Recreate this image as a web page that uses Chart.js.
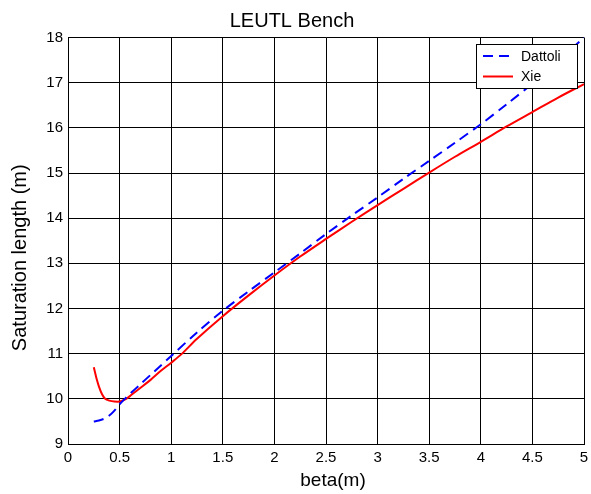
<!DOCTYPE html>
<html>
<head>
<meta charset="utf-8">
<script src="https://cdn.jsdelivr.net/npm/chart.js@4"></script>
<style>
  html, body { margin: 0; padding: 0; background: #fff; }
  #wrap { width: 591px; height: 494px; }
</style>
</head>
<body>
<div id="wrap"><canvas id="c" width="591" height="494"></canvas></div>
<script>
// ---- data ----
const titleText = "LEUTL Bench";
const xAxisTitle = "beta(m)";
const yAxisTitle = "Saturation length (m)";
const seriesNames = ["Dattoli", "Xie"];

const betaDattoli = [0.25, 0.3, 0.35, 0.4, 0.45, 0.5, 0.55, 0.6, 0.7, 0.8, 0.9, 1.0, 1.25, 1.5, 1.75, 2.0, 2.25, 2.5, 2.75, 3.0, 3.25, 3.5, 3.75, 4.0, 4.25, 4.5, 4.75, 5.0];
const dattoli =     [9.50, 9.52, 9.56, 9.63, 9.74, 9.88, 10.00, 10.11, 10.32, 10.53, 10.74, 10.95, 11.47, 11.95, 12.38, 12.80, 13.22, 13.65, 14.06, 14.46, 14.87, 15.27, 15.67, 16.08, 16.52, 16.98, 17.48, 18.00];

const betaXie = [0.25, 0.28, 0.3, 0.33, 0.36, 0.4, 0.45, 0.5, 0.55, 0.6, 0.7, 0.8, 0.9, 1.0, 1.1, 1.25, 1.5, 1.75, 2.0, 2.25, 2.5, 2.75, 3.0, 3.25, 3.5, 3.75, 4.0, 4.25, 4.5, 4.75, 5.0];
const xie =     [10.70, 10.42, 10.27, 10.10, 10.00, 9.96, 9.94, 9.94, 9.98, 10.06, 10.24, 10.42, 10.62, 10.80, 10.99, 11.33, 11.83, 12.29, 12.73, 13.15, 13.54, 13.92, 14.29, 14.65, 15.01, 15.36, 15.69, 16.03, 16.35, 16.67, 16.97];

const xMin = 0, xMax = 5, xStep = 0.5;
const yMin = 9, yMax = 18, yStep = 1;

const toPoints = (xs, ys) => xs.map((x, i) => ({ x: x, y: ys[i] }));

const FONT = "'Liberation Sans', Arial, Helvetica, sans-serif";

const boxLegend = {
  id: 'boxLegend',
  afterDraw(chart) {
    const ctx = chart.ctx;
    const left = 476, top = 44, w = 101, h = 44;
    ctx.save();
    ctx.fillStyle = '#fff';
    ctx.fillRect(left, top, w, h);
    ctx.strokeStyle = '#000';
    ctx.lineWidth = 1;
    ctx.setLineDash([]);
    ctx.strokeRect(left + 0.5, top + 0.5, w, h);
    chart.data.datasets.forEach((ds, i) => {
      const y = top + 12 + i * 20.5;
      ctx.beginPath();
      ctx.strokeStyle = ds.borderColor;
      ctx.lineWidth = ds.borderWidth;
      ctx.setLineDash(ds.borderDash || []);
      ctx.moveTo(483, y);
      ctx.lineTo(513, y);
      ctx.stroke();
      ctx.setLineDash([]);
      ctx.fillStyle = '#000';
      ctx.font = '14px ' + FONT;
      ctx.textBaseline = 'middle';
      ctx.textAlign = 'left';
      ctx.fillText(ds.label, 521, y + 1);
    });
    ctx.restore();
  }
};

const axisTitles = {
  id: 'axisTitles',
  afterDraw(chart) {
    const ctx = chart.ctx;
    const a = chart.chartArea;
    ctx.save();
    ctx.fillStyle = '#000';
    ctx.textAlign = 'center';
    ctx.textBaseline = 'middle';
    ctx.font = '19px ' + FONT;
    ctx.fillText(xAxisTitle, (a.left + a.right) / 2 + 7, a.bottom + 37);
    ctx.translate(20, (a.top + a.bottom) / 2 + 17);
    ctx.rotate(-Math.PI / 2);
    ctx.font = '20px ' + FONT;
    ctx.fillText(yAxisTitle, 0, 0);
    ctx.restore();
  }
};

new Chart(document.getElementById('c'), {
  type: 'scatter',
  data: {
    datasets: [
      {
        label: seriesNames[0],
        data: toPoints(betaDattoli, dattoli),
        showLine: true,
        borderColor: '#0000ff',
        backgroundColor: '#0000ff',
        borderWidth: 2,
        borderDash: [10, 6],
        pointRadius: 0,
        tension: 0.3
      },
      {
        label: seriesNames[1],
        data: toPoints(betaXie, xie),
        showLine: true,
        borderColor: '#ff0000',
        backgroundColor: '#ff0000',
        borderWidth: 2,
        pointRadius: 0,
        tension: 0.3
      }
    ]
  },
  options: {
    responsive: false,
    animation: false,
    devicePixelRatio: 1,
    layout: { padding: { left: 0, right: 7, top: 0, bottom: 0 } },
    plugins: {
      legend: { display: false },
      tooltip: { enabled: false },
      title: {
        display: true,
        text: titleText,
        color: '#000',
        font: { family: FONT, size: 20, weight: 'normal' },
        padding: { top: 9, bottom: 4.5 }
      }
    },
    scales: {
      x: {
        type: 'linear',
        min: xMin, max: xMax,
        ticks: {
          stepSize: xStep,
          color: '#000',
          font: { family: FONT, size: 15 },
          padding: 5,
          maxRotation: 0,
          autoSkip: false,
          callback: (v) => String(v)
        },
        grid: { color: '#000', lineWidth: 1, drawTicks: false },
        border: { color: '#000', width: 1 },
        afterFit(scale) { scale.height = 50; scale.paddingLeft = 0; scale.paddingRight = 0; }
      },
      y: {
        type: 'linear',
        min: yMin, max: yMax,
        ticks: {
          stepSize: yStep,
          color: '#000',
          font: { family: FONT, size: 15 },
          padding: 5,
          callback: (v) => String(v)
        },
        grid: { color: '#000', lineWidth: 1, drawTicks: false },
        border: { color: '#000', width: 1 },
        afterFit(scale) { scale.width = 68; scale.paddingTop = 0; scale.paddingBottom = 0; }
      }
    }
  },
  plugins: [boxLegend, axisTitles]
});
</script>
</body>
</html>
